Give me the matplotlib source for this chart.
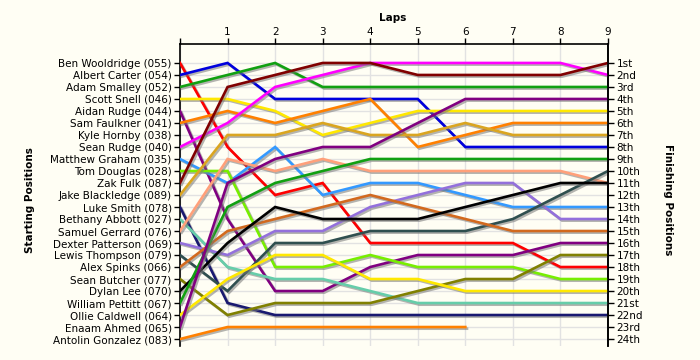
import matplotlib
matplotlib.use("Agg")
import matplotlib.pyplot as plt
import matplotlib.patheffects as pe

# Lap numbers (0 = grid)
laps = list(range(10))

# Drivers in starting-grid order
drivers = [
    "Ben Wooldridge (055)", "Albert Carter (054)", "Adam Smalley (052)",
    "Scott Snell (046)", "Aidan Rudge (044)", "Sam Faulkner (041)",
    "Kyle Hornby (038)", "Sean Rudge (040)", "Matthew Graham (035)",
    "Tom Douglas (028)", "Zak Fulk (087)", "Jake Blackledge (089)",
    "Luke Smith (078)", "Bethany Abbott (027)", "Samuel Gerrard (076)",
    "Dexter Patterson (069)", "Lewis Thompson (079)", "Alex Spinks (066)",
    "Sean Butcher (077)", "Dylan Lee (070)", "William Pettitt (067)",
    "Ollie Caldwell (064)", "Enaam Ahmed (065)", "Antolin Gonzalez (083)",
]

# Running position at the end of each lap
pos_wooldridge = [1, 8, 12, 11, 16, 16, 16, 16, 18, 18]
pos_carter     = [2, 1, 4, 4, 4, 4, 8, 8, 8, 8]
pos_smalley    = [3, 2, 1, 3, 3, 3, 3, 3, 3, 3]
pos_snell      = [4, 4, 5, 7, 6, 5, 5, 5, 5, 5]
pos_a_rudge    = [5, 14, 20, 20, 18, 17, 17, 17, 16, 16]
pos_faulkner   = [6, 5, 6, 5, 4, 8, 7, 6, 6, 6]
pos_hornby     = [7]
pos_s_rudge    = [8, 6, 3, 2, 1, 1, 1, 1, 1, 2]
pos_graham     = [9, 11, 8, 12, 11, 11, 12, 13, 13, 13]
pos_douglas    = [10, 10, 18, 18, 17, 18, 18, 18, 19, 19]
pos_fulk       = [11, 3, 2, 1, 1, 2, 2, 2, 2, 1]
pos_blackledge = [12, 7, 7, 6, 7, 7, 6, 7, 7, 7]
pos_smith      = [13, 21, 22, 22, 22, 22, 22, 22, 22, 22]
pos_abbott     = [14, 18, 19, 19, 20, 21, 21, 21, 21, 21]
pos_gerrard    = [15, 9, 10, 9, 10, 10, 10, 10, 10, 11]
pos_patterson  = [16, 17, 15, 15, 13, 12, 11, 11, 14, 14]
pos_thompson   = [17, 20, 16, 16, 15, 15, 15, 14, 12, 10]
pos_spinks     = [18, 15, 14, 13, 12, 13, 14, 15, 15, 15]
pos_butcher    = [19, 22, 21, 21, 21, 20, 19, 19, 17, 17]
pos_lee        = [20, 16, 13, 14, 14, 14, 13, 12, 11, 11]
pos_pettitt    = [21, 13, 11, 10, 9, 9, 9, 9, 9, 9]
pos_caldwell   = [22, 19, 17, 17, 19, 19, 20, 20, 20, 20]
pos_ahmed      = [23, 11, 9, 8, 8, 6, 4, 4, 4, 4]
pos_gonzalez   = [24, 23, 23, 23, 23, 23, 23]

positions = [
    pos_wooldridge, pos_carter, pos_smalley, pos_snell, pos_a_rudge,
    pos_faulkner, pos_hornby, pos_s_rudge, pos_graham, pos_douglas,
    pos_fulk, pos_blackledge, pos_smith, pos_abbott, pos_gerrard,
    pos_patterson, pos_thompson, pos_spinks, pos_butcher, pos_lee,
    pos_pettitt, pos_caldwell, pos_ahmed, pos_gonzalez,
]

colors = [
    "#FF0000", "#0000DD", "#11A011", "#FFE800", "#800080",
    "#FF8000", "#888888", "#FF00FF", "#3399FF", "#77EE00",
    "#800000", "#DAA520", "#191970", "#66CDAA", "#FFA07A",
    "#9370DB", "#2F4F4F", "#D2691E", "#808000", "#000000",
    "#11A011", "#FFE800", "#800080", "#FF8000",
]

finish_labels = ["1st", "2nd", "3rd"] + [f"{i}th" for i in range(4, 21)] + \
                ["21st", "22nd", "23rd", "24th"]

bg = "#FFFEF4"
fig = plt.figure(figsize=(7, 3.6), dpi=100, facecolor=bg)
ax = fig.add_axes([180 / 700, 14 / 360, 428 / 700, 302 / 360])
ax.set_facecolor(bg)

shadow = [pe.SimpleLineShadow(offset=(1.2, -1.2), shadow_color="#777777", alpha=0.55),
          pe.Normal()]

for pos, col in zip(positions, colors):
    ax.plot(laps[:len(pos)], pos, color=col, lw=1.9,
            solid_joinstyle="miter", path_effects=shadow, zorder=3)

ax.set_xlim(0, 9)
ax.set_ylim(24.58, -0.58)

ax.set_xticks(laps)
ax.set_xticklabels([""] + [str(l) for l in laps[1:]])
ax.xaxis.tick_top()
ax.set_yticks(range(1, 25))
ax.set_yticklabels(drivers)

ax.tick_params(axis="both", direction="out", length=4, width=1,
               labelsize=7.5, colors="black", pad=2)
ax.tick_params(axis="x", pad=1)

ax.grid(True, color="#E2E2E2", lw=1, zorder=0)
ax.set_axisbelow(True)

for side in ("top", "left", "right"):
    ax.spines[side].set_linewidth(1.2)
    ax.spines[side].set_color("black")
ax.spines["bottom"].set_visible(False)

ax2 = ax.twinx()
ax2.set_ylim(ax.get_ylim())
ax2.set_yticks(range(1, 25))
ax2.set_yticklabels(finish_labels)
ax2.tick_params(axis="y", direction="out", length=4, width=1,
                labelsize=7.5, colors="black", pad=2)
for side in ("top", "left", "bottom"):
    ax2.spines[side].set_visible(False)
ax2.spines["right"].set_linewidth(1.2)

fig.text(393 / 700, 1 - 18 / 360, "Laps", ha="center", va="center",
         fontsize=7.5, fontweight="bold")
fig.text(30 / 700, 1 - 200 / 360, "Starting Positions", ha="center",
         va="center", rotation=90, fontsize=7.5, fontweight="bold")
fig.text(668 / 700, 1 - 200 / 360, "Finishing Positions", ha="center",
         va="center", rotation=270, fontsize=7.5, fontweight="bold")

fig.savefig("out.png", dpi=100, facecolor=bg)
